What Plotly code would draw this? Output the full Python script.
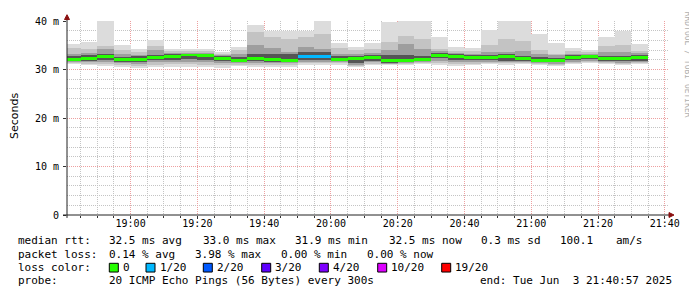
import numpy as np
import plotly.graph_objects as go

# ---- data (milliseconds) ----
step_start = ["18:40", "18:45", "18:50", "18:55", "19:00", "19:05", "19:10", "19:15", "19:20",
              "19:25", "19:30", "19:35", "19:40", "19:45", "19:50", "19:55", "20:00", "20:05",
              "20:10", "20:15", "20:20", "20:25", "20:30", "20:35", "20:40", "20:45", "20:50",
              "20:55", "21:00", "21:05", "21:10", "21:15", "21:20", "21:25", "21:30"]

ping_max = [35.2, 35.7, 40.0, 35.0, 34.2, 36.0, 34.3, 34.3, 34.3, 33.7, 34.7, 39.2, 37.9, 38.0, 38.0,
            40.0, 35.5, 34.7, 35.5, 39.8, 40.0, 40.0, 36.8, 34.7, 34.5, 38.2, 40.0, 40.0, 37.3, 35.4,
            34.5, 34.1, 36.6, 38.0, 35.2]
ping_hi2 = [34.5, 34.3, 34.8, 34.0, 33.7, 34.9, 33.8, 33.9, 33.8, 33.3, 34.0, 37.8, 36.7, 36.3, 36.8,
            37.3, 34.5, 34.0, 34.2, 35.7, 37.0, 36.3, 34.3, 33.9, 33.8, 35.1, 36.3, 35.8, 34.1, 33.2,
            33.8, 33.6, 34.8, 35.1, 33.8]
ping_hi3 = [33.3, 33.4, 34.3, 33.2, 33.0, 34.0, 33.4, 33.5, 33.4, 33.0, 33.3, 35.0, 34.5, 33.7, 34.7,
            34.3, 33.3, 33.2, 33.4, 34.0, 35.3, 34.3, 33.8, 33.4, 33.3, 33.7, 33.7, 33.8, 33.1, 32.9,
            33.3, 33.3, 33.7, 33.7, 33.4]
ping_hi4 = [32.8, 32.9, 33.3, 32.6, 32.7, 33.0, 33.1, 33.3, 33.2, 32.7, 32.5, 33.3, 33.1, 33.2, 33.6,
            33.6, 32.7, 32.7, 33.0, 33.0, 33.0, 32.8, 33.4, 33.1, 32.9, 33.0, 33.1, 32.8, 32.5, 32.3,
            32.9, 33.0, 32.8, 32.7, 32.9]
median = [32.1, 32.3, 32.7, 32.0, 32.1, 32.5, 32.7, 33.0, 32.8, 32.3, 31.9, 32.2, 32.0, 31.9, 32.6,
          32.6, 32.1, 32.2, 32.5, 31.9, 31.9, 32.0, 32.9, 32.7, 32.5, 32.5, 32.7, 32.3, 31.9, 31.9,
          32.5, 32.7, 32.3, 32.2, 32.5]
ping_lo4 = [31.7, 31.8, 32.0, 31.6, 31.6, 31.9, 32.0, 32.1, 32.0, 31.7, 31.5, 31.7, 31.6, 31.6, 32.0,
            31.9, 31.8, 31.4, 31.8, 31.3, 31.6, 31.7, 32.3, 32.0, 31.9, 31.9, 31.7, 31.8, 31.6, 31.5,
            31.9, 32.1, 31.8, 31.7, 31.8]
ping_lo3 = [31.5, 31.5, 31.6, 31.3, 31.2, 31.5, 31.5, 31.6, 31.5, 31.3, 31.3, 31.4, 31.3, 31.3, 31.6,
            31.6, 31.5, 31.0, 31.5, 31.2, 31.4, 31.5, 31.8, 31.5, 31.5, 31.6, 31.5, 31.5, 31.4, 31.2,
            31.6, 31.8, 31.5, 31.4, 31.5]
ping_lo2 = [31.3, 31.2, 31.2, 31.0, 30.8, 31.0, 31.1, 31.1, 31.0, 30.9, 31.0, 31.0, 31.0, 31.0, 31.3,
            31.3, 31.3, 30.8, 31.2, 31.1, 31.2, 31.3, 31.4, 31.1, 31.2, 31.3, 31.3, 31.3, 31.2, 31.0,
            31.3, 31.5, 31.3, 31.2, 31.3]
ping_min = [31.1, 30.9, 30.7, 30.5, 30.3, 30.5, 30.6, 30.5, 30.5, 30.3, 30.7, 30.5, 30.6, 30.6, 31.0,
            31.0, 31.0, 30.5, 30.9, 31.0, 31.0, 31.1, 31.0, 30.7, 30.9, 31.1, 31.0, 31.1, 31.0, 30.7,
            31.1, 31.3, 31.1, 31.0, 31.1]
lost_pings = [0, 0, 0, 0, 0, 0, 0, 0, 0, 0, 0, 0, 0, 0, 1, 1, 0, 0, 0, 0, 0, 0, 0, 0, 0, 0, 0, 0, 0, 0,
              0, 0, 0, 0, 0]

loss_levels = ["0", "1/20", "2/20", "3/20", "4/20", "10/20", "19/20"]
loss_colors = ["#26ff00", "#00b8ff", "#0059ff", "#5e00ff", "#7e00ff", "#dd00ff", "#ff0000"]

legend_lines = [
    [("median rtt:", 16), ("32.5 ms avg", 107), ("33.0 ms max", 200.7), ("31.9 ms min", 292.7),
     ("32.5 ms now", 386.7), ("0.3 ms sd", 479.3), ("100.1", 558.3), ("am/s", 614)],
    [("packet loss:", 16), ("0.14 % avg", 107), ("3.98 % max", 192.7), ("0.00 % min", 279.3),
     ("0.00 % now", 365)],
    [("loss color:", 16)],
    [("probe:", 16), ("20 ICMP Echo Pings (56 Bytes) every 300s", 107),
     ("end: Tue Jun  3 21:40:57 2025", 478.3)],
]
box_x = [109.3, 146, 203.3, 261.7, 319.3, 377.7, 441.7]
line_y = [241, 255.5, 269.3, 283]

# ---- geometry (reference pixel coords; page body has an 8px margin) ----
OFF = 8
W, H = 697 - OFF, 297 - OFF
L, R, T, B = 67, 668, 15, 215          # plot area in reference pixels


def px(xp):
    return (xp - L) / (R - L)


def py(yp):
    return (B - yp) / (B - T)


x = ["2025-06-03 " + s for s in step_start]
arr = lambda a: np.array(a, dtype=float)

fig = go.Figure()
bands = [(ping_min, ping_max, "#dcdcdc"), (ping_lo2, ping_hi2, "#c3c3c3"),
         (ping_lo3, ping_hi3, "#9e9e9e"), (ping_lo4, ping_hi4, "#555555")]
for lo, hi, col in bands:
    fig.add_trace(go.Bar(x=x, base=arr(lo), y=arr(hi) - arr(lo), width=300000, offset=0,
                         marker=dict(color=col, line=dict(width=0)), hoverinfo="skip"))

med_colors = [loss_colors[n] for n in lost_pings]
fig.add_trace(go.Bar(x=x, base=arr(median) - 0.3, y=[0.6] * len(median), width=300000, offset=0,
                     marker=dict(color=med_colors, line=dict(width=0)), hoverinfo="skip"))

mono = "DejaVu Sans Mono"
fig.update_layout(
    width=W, height=H, autosize=False,
    margin=dict(l=L - OFF, r=697 - R, t=T - OFF, b=297 - B, pad=0),
    paper_bgcolor="white", plot_bgcolor="white",
    barmode="overlay", bargap=0, showlegend=False,
    font=dict(family=mono, size=10, color="#000"),
)
fig.update_xaxes(
    type="date", range=["2025-06-03 18:40:57", "2025-06-03 21:40:57"],
    tick0="2025-06-03 19:00", dtick=1200000, tickformat="%H:%M",
    showgrid=True, gridcolor="#eda0a0", gridwidth=1, griddash="1px,1px",
    minor=dict(dtick=300000, tick0="2025-06-03 19:00", showgrid=True, gridcolor="#c4c4c4",
               griddash="1px,1px", ticks="outside", ticklen=2, tickcolor="#333"),
    ticks="outside", ticklen=3, tickcolor="#333", zeroline=False, showline=False,
    ticklabelstandoff=-4,
    tickfont=dict(family=mono, size=10, color="#000"),
)
fig.update_yaxes(
    range=[0, 40], tickvals=[0, 10, 20, 30, 40], ticktext=["0", "10 m", "20 m", "30 m", "40 m"],
    showgrid=True, gridcolor="#eda0a0", gridwidth=1, griddash="1px,1px",
    minor=dict(dtick=2, showgrid=True, gridcolor="#c4c4c4", griddash="1px,1px"),
    ticks="outside", ticklen=3, tickcolor="#333", zeroline=False, showline=False,
    ticklabelstandoff=2,
    tickfont=dict(family=mono, size=10, color="#000"),
)

shapes = []
# axis lines
shapes.append(dict(type="line", xref="paper", yref="paper", x0=px(63), x1=px(670), y0=0, y1=0,
                   line=dict(color="#222", width=1)))
shapes.append(dict(type="line", xref="paper", yref="paper", x0=0, x1=0, y0=py(218), y1=py(11),
                   line=dict(color="#222", width=1)))
# arrows
shapes.append(dict(type="path", xref="paper", yref="paper",
                   path=f"M {px(669)} {py(212.5)} L {px(674)} {py(215)} L {px(669)} {py(217.5)} Z",
                   fillcolor="#8b1010", line=dict(color="#8b1010", width=1)))
shapes.append(dict(type="path", xref="paper", yref="paper",
                   path=f"M {px(64.5)} {py(13.5)} L {px(67)} {py(8.5)} L {px(69.5)} {py(13.5)} Z",
                   fillcolor="#8b1010", line=dict(color="#8b1010", width=1)))
# legend colour boxes
for bx, col in zip(box_x, loss_colors):
    shapes.append(dict(type="rect", xref="paper", yref="paper",
                       x0=px(bx), x1=px(bx + 9), y0=py(line_y[2] + 4.5), y1=py(line_y[2] - 4.5),
                       fillcolor=col, line=dict(color="#000", width=1)))
fig.update_layout(shapes=shapes)

ann = []
for row, yy in zip(legend_lines, line_y):
    for txt, xx in row:
        ann.append(dict(text=txt, x=px(xx), y=py(yy), xref="paper", yref="paper", xanchor="left",
                        yanchor="middle", showarrow=False, font=dict(family=mono, size=11, color="#000")))
for bx, lab in zip(box_x, loss_levels):
    ann.append(dict(text=lab, x=px(bx + 11.5), y=py(line_y[2]), xref="paper", yref="paper",
                    xanchor="left", yanchor="middle", showarrow=False,
                    font=dict(family=mono, size=11, color="#000")))
ann.append(dict(text="Seconds", x=px(14), y=py(113), xref="paper", yref="paper", textangle=-90,
                xanchor="center", yanchor="middle", showarrow=False, borderpad=0,
                font=dict(family="DejaVu Sans", size=11, color="#000")))
ann.append(dict(text="RRDTOOL / TOBI OETIKER", x=px(687), y=py(60), xref="paper", yref="paper",
                textangle=90, xanchor="center", yanchor="middle", showarrow=False,
                font=dict(family=mono, size=8, color="#b0b0b0")))
fig.update_layout(annotations=ann)

fig.write_html("out.html")
